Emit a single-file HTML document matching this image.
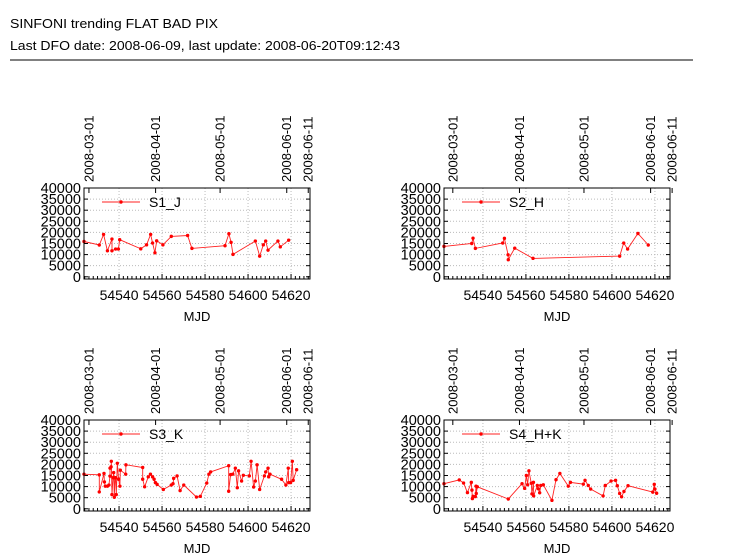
<!DOCTYPE html>
<html><head><meta charset="utf-8"><style>
body{margin:0;background:#fff;width:730px;height:554px;overflow:hidden;font-family:"Liberation Sans",sans-serif}
</style></head><body>
<svg id="chart" width="730" height="554" xmlns="http://www.w3.org/2000/svg" font-family="Liberation Sans, sans-serif">
<text x="10" y="28" font-size="13" textLength="208" lengthAdjust="spacingAndGlyphs">SINFONI trending FLAT BAD PIX</text>
<text x="10" y="50" font-size="13" textLength="390" lengthAdjust="spacingAndGlyphs">Last DFO date: 2008-06-09, last update: 2008-06-20T09:12:43</text>
<line x1="10" y1="60" x2="693" y2="60" stroke="#000" stroke-width="1"/>
</svg>
<script>
const s1Mjd=[54523.7,54530.8,54532.8,54534.6,54536.7,54536.7,54538.4,54539.7,54540.3,54550.1,54552.8,54554.7,54555.6,54556.7,54557.5,54560.4,54564.3,54571.9,54573.9,54589.3,54591.1,54592.1,54593.0,54603.4,54605.4,54607.1,54608.2,54609.3,54613.9,54615.0,54618.9];
const s1Val=[15900,14300,19100,11700,17000,11700,12500,12500,16700,12600,14400,19100,15200,10800,16200,14400,18200,18600,12800,14000,19400,15500,10100,16100,9300,14400,16100,12000,16100,13500,16500];
const s2Mjd=[54521.9,54534.8,54535.4,54536.5,54549.2,54550.0,54551.7,54551.8,54554.8,54563.3,54603.6,54605.5,54607.3,54612.1,54616.9];
const s2Val=[13700,15000,17400,12800,15200,17300,9900,7700,12900,8300,9300,15200,12500,19500,14300];
const s3Mjd=[54523.7,54530.8,54530.8,54533.0,54533.2,54533.6,54534.6,54535.3,54535.8,54535.8,54536.3,54536.4,54536.7,54537.2,54537.5,54537.8,54538.1,54538.4,54538.7,54539.2,54539.8,54540.4,54540.6,54543.1,54543.2,54551.0,54551.0,54551.9,54553.6,54554.6,54555.6,54556.3,54556.9,54557.7,54560.6,54564.3,54565.1,54565.4,54567.0,54568.4,54570.1,54576.0,54577.8,54580.8,54581.8,54582.6,54591.0,54591.0,54591.9,54592.9,54594.1,54595.0,54595.6,54597.0,54597.8,54600.6,54601.4,54602.6,54603.4,54604.2,54605.4,54607.6,54608.2,54609.3,54609.6,54610.2,54615.6,54617.6,54618.7,54618.9,54619.8,54620.6,54621.0,54622.6];
const s3Val=[15600,15300,7600,15900,12100,10200,10200,10700,14700,18300,18900,21400,6400,14000,16300,5200,14000,14000,6400,20500,13300,10200,17400,15600,19800,18600,13300,9900,14400,15600,14400,13300,11800,11000,8700,10700,11300,13700,14800,8200,10700,5300,5600,11600,15600,16600,19400,7900,15400,15600,18300,9500,17100,12500,15100,14800,21400,9800,12500,19800,8700,14800,16600,18300,14400,15600,13300,10700,18300,11800,11800,21400,12800,17600];
const s4Mjd=[54521.9,54529.0,54531.0,54532.8,54534.6,54534.9,54535.1,54535.4,54536.5,54536.8,54536.9,54537.4,54551.8,54558.2,54559.4,54560.2,54560.8,54561.4,54562.5,54562.8,54563.5,54563.6,54565.3,54565.8,54566.4,54566.9,54568.1,54572.1,54574.0,54575.8,54579.7,54580.7,54586.7,54587.5,54589.0,54590.1,54595.9,54596.9,54599.6,54601.7,54602.5,54603.6,54604.5,54605.6,54607.5,54619.0,54619.7,54620.0,54620.8];
const s4Val=[11300,13000,11600,7300,11900,8400,4600,5600,5500,10200,6900,9900,4400,11300,9200,15000,10800,17100,11500,6700,11900,5800,10500,9000,7200,10500,10800,3800,13100,15900,10200,11900,11100,12800,10500,8900,5800,10500,12500,12800,10400,6900,5400,7800,10400,7500,11000,8900,7000];
const yTicks=[0,5000,10000,15000,20000,25000,30000,35000,40000];
const xTicks=[54540,54560,54580,54600,54620];
const dateLabels=['2008-03-01','2008-04-01','2008-05-01','2008-06-01','2008-06-11'];
const dateMjd=[54526,54557,54587,54618,54628];

const NS='http://www.w3.org/2000/svg';
const svg=document.getElementById('chart');
function mk(tag,attrs,parent){const e=document.createElementNS(NS,tag);for(const k in attrs)e.setAttribute(k,attrs[k]);(parent||svg).appendChild(e);return e;}
const W=226,H=91,YMIN=-1000,YMAX=40000,PXD=2.15;
const panels=[
 {name:'s1-j',label:'S1_J',mjd:s1Mjd,val:s1Val,x0:84,y0:188,xmin:54523.7},
 {name:'s2-h',label:'S2_H',mjd:s2Mjd,val:s2Val,x0:444,y0:188,xmin:54521.9},
 {name:'s3-k',label:'S3_K',mjd:s3Mjd,val:s3Val,x0:84,y0:420,xmin:54523.7},
 {name:'s4-hk',label:'S4_H+K',mjd:s4Mjd,val:s4Val,x0:444,y0:420,xmin:54521.9}
];
panels.forEach(p=>{
 const g=mk('g',{});
 
 
 const xs=m=>p.x0+(m-p.xmin)*PXD;
 const ys=v=>p.y0+H-(v-YMIN)/(YMAX-YMIN)*H;
 yTicks.forEach(t=>{if(t>0&&t<40000){const l=mk('line',{x1:p.x0,x2:p.x0+W,y1:ys(t),y2:ys(t),stroke:'#bbb','stroke-dasharray':'1,2'},g);}});
 xTicks.forEach(t=>{const l=mk('line',{x1:xs(t),x2:xs(t),y1:p.y0,y2:p.y0+H,stroke:'#bbb','stroke-dasharray':'1,2'},g);});
 for(let m=Math.ceil(p.xmin/2)*2;xs(m)<p.x0+W;m+=2){const major=m%20===0;const l=mk('line',{x1:xs(m),x2:xs(m),y1:p.y0+H,y2:p.y0+H-(major?5:3),stroke:'#000'},g);}
 yTicks.forEach(t=>{
  const l=mk('line',{x1:p.x0,x2:p.x0+4,y1:ys(t),y2:ys(t),stroke:'#000'},g);
  
  const l2=mk('line',{x1:p.x0+W,x2:p.x0+W-4,y1:ys(t),y2:ys(t),stroke:'#000'},g);
  
  const tx=mk('text',{x:p.x0-3,y:ys(t)+5,'font-size':'14.5','text-anchor':'end'},g);tx.textContent=t;
  
 });
 xTicks.forEach(t=>{const tx=mk('text',{x:xs(t),y:p.y0+H+21,'font-size':'14','text-anchor':'middle'},g);tx.textContent=t;
  });
 dateMjd.forEach((m,i)=>{const x=xs(m);
  const l=mk('line',{x1:x,x2:x,y1:p.y0,y2:p.y0+5,stroke:'#000'},g);
  const tx=mk('text',{x:0,y:0,'font-size':'13',transform:`translate(${x+4.5},${p.y0-6}) rotate(-90)`},g);tx.textContent=dateLabels[i];
  });
 const xt=mk('text',{x:p.x0+W/2,y:p.y0+H+42,'font-size':'13','text-anchor':'middle'},g);xt.textContent='MJD';
 
 const pts=p.mjd.map((m,i)=>xs(m).toFixed(1)+','+ys(p.val[i]).toFixed(1)).join(' ');
 const pl=mk('polyline',{points:pts,fill:'none',stroke:'#f22','stroke-width':'0.9'},g);
 
 p.mjd.forEach((m,i)=>{const c=mk('circle',{cx:xs(m),cy:ys(p.val[i]),r:1.7,fill:'#f00'},g);
  });
 const ly=p.y0+14;
 const ll=mk('line',{x1:p.x0+18,x2:p.x0+56,y1:ly,y2:ly,stroke:'#f22','stroke-width':'0.9'},g);
 
 const lc=mk('circle',{cx:p.x0+37,cy:ly,r:1.7,fill:'#f00'},g);
 
 const lt=mk('text',{x:p.x0+65,y:ly+5,'font-size':'14'},g);lt.textContent=p.label;
 
 const r=mk('rect',{x:p.x0,y:p.y0,width:W,height:H,fill:'none',stroke:'#000','stroke-width':'1'},g);
 
});
</script>
</body></html>
